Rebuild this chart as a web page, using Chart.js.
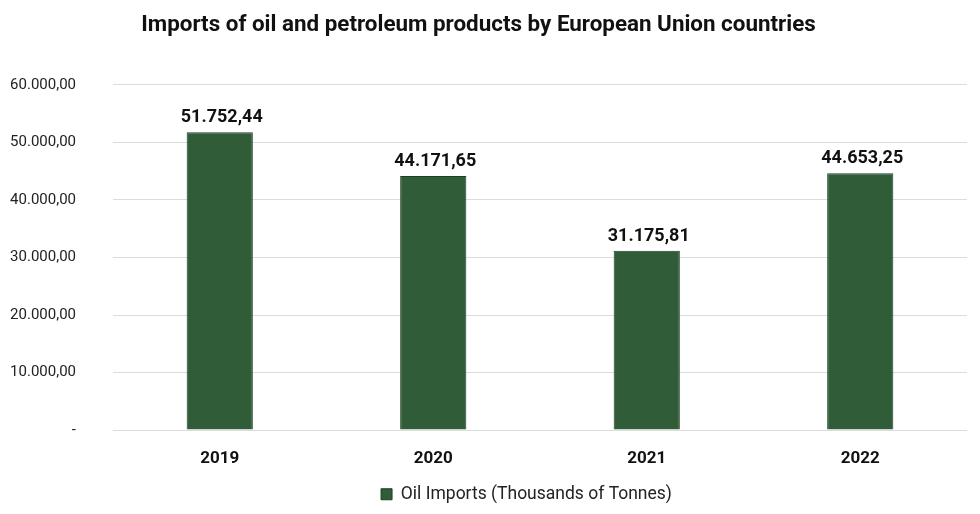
<!DOCTYPE html>
<html>
<head>
<meta charset="utf-8">
<script src="https://cdn.jsdelivr.net/npm/chart.js@4"></script>
<style>
  html, body { margin: 0; padding: 0; background: #fff; }
  #wrap { width: 980px; height: 514px; }
</style>
</head>
<body>
<div id="wrap"><canvas id="chart"></canvas></div>
<script>
// Oil imports by EU countries, thousands of tonnes
const years = ['2019', '2020', '2021', '2022'];
const oilImports = [51752.44, 44171.65, 31175.81, 44653.25];
const yTicks = [0, 10000, 20000, 30000, 40000, 50000, 60000];

const BAR_FILL = '#315c38';
const BAR_EDGE = '#1c4023';

const fmt = v => v.toLocaleString('de-DE', { minimumFractionDigits: 2, maximumFractionDigits: 2 });

// value labels above the bars
Chart.register({
  id: 'barValues',
  afterDatasetsDraw(chart) {
    const { ctx } = chart;
    const meta = chart.getDatasetMeta(0);
    ctx.save();
    ctx.font = 'bold 18px Roboto';
    ctx.fillStyle = '#111';
    ctx.textAlign = 'center';
    ctx.textBaseline = 'alphabetic';
    meta.data.forEach((bar, i) => {
      ctx.fillText(fmt(oilImports[i]), bar.x + 2, bar.y - 10);
    });
    ctx.restore();
  }
});

// nudge title / legend sideways to sit where the original puts them
Chart.register({
  id: 'nudgeBlocks',
  afterLayout(chart) {
    if (chart.legend) { chart.legend.left += 43; chart.legend.right += 43; }
    if (chart.titleBlock) { chart.titleBlock.left -= 5; chart.titleBlock.right -= 5; }
  }
});

new Chart(document.getElementById('chart'), {
  type: 'bar',
  data: {
    labels: years,
    datasets: [{
      label: 'Oil Imports (Thousands of Tonnes)',
      data: oilImports,
      backgroundColor: BAR_FILL,
      borderColor: BAR_EDGE,
      borderWidth: 1,
      categoryPercentage: 1,
      barPercentage: 0.31,
    }],
  },
  options: {
    responsive: true,
    maintainAspectRatio: false,
    animation: false,
    layout: { padding: { left: 0, right: 13, top: 0, bottom: 1 } },
    plugins: {
      title: {
        display: true,
        text: 'Imports of oil and petroleum products by European Union countries',
        color: '#111',
        font: { family: 'Roboto', size: 22.4, weight: 'bold' },
        padding: { top: 12, bottom: 46 },
      },
      legend: {
        position: 'bottom',
        labels: {
          color: '#222',
          font: { family: 'Roboto', size: 17.5 },
          boxWidth: 11,
          boxHeight: 11,
          padding: 3,
        },
      },
      tooltip: { enabled: false },
    },
    scales: {
      x: {
        afterFit(scale) { scale.height += 4; },
        grid: { display: false },
        border: { display: false },
        ticks: {
          color: '#111',
          font: { family: 'Roboto', size: 17, weight: 'bold' },
          padding: 10,
        },
      },
      y: {
        min: 0,
        max: 60000,
        afterFit(scale) { scale.width = 113; },
        afterBuildTicks(scale) { scale.ticks = yTicks.map(v => ({ value: v })); },
        grid: { color: '#dcdcdc', lineWidth: 1, drawTicks: false },
        border: { display: false },
        ticks: {
          color: '#222',
          font: { family: 'Roboto', size: 15 },
          padding: 37,
          callback: v => (v === 0 ? '-' : fmt(v)),
        },
      },
    },
  },
});
</script>
</body>
</html>
